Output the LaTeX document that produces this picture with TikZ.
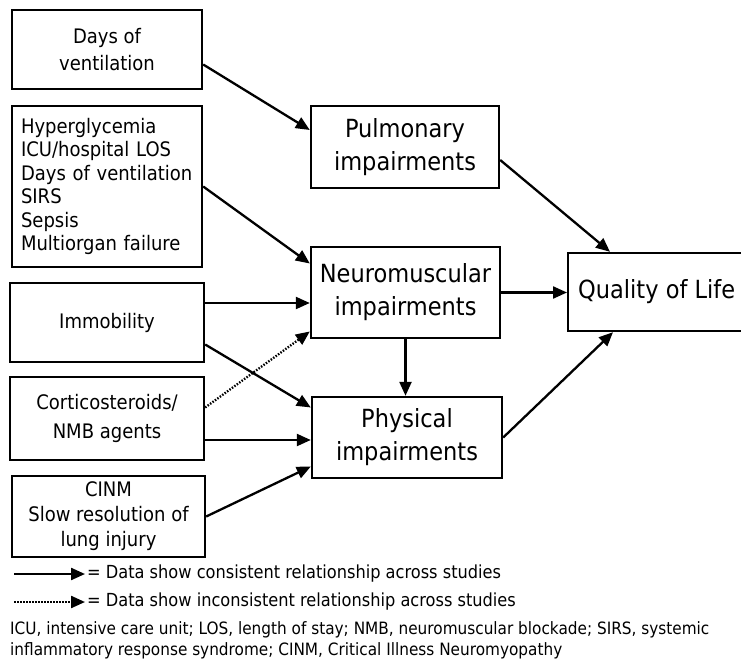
\documentclass[tikz,border=0pt]{standalone}
\usepackage{fontspec}
\setmainfont{DejaVu Sans}[FakeStretch=0.9]
\usetikzlibrary{arrows.meta,calc}

\tikzset{
  box/.style={draw, line width=2.4pt, rectangle, inner sep=4pt, align=center,
              font=\fontsize{20}{27}\selectfont},
  bigbox/.style={box, font=\fontsize{25}{33}\selectfont},
  link/.style={line width=2.3pt, -{Triangle[length=14pt,width=12pt]}},
  weak/.style={link, dash pattern=on 1.5pt off 1.5pt},
  legendtext/.style={anchor=west, inner sep=2pt, font=\fontsize{18}{22}\selectfont},
  notetext/.style={anchor=base west, inner sep=0pt, align=left,
                   font=\fontsize{17}{20.5}\selectfont},
}

\begin{document}
\begin{tikzpicture}[x=1pt, y=-1pt]
  \useasboundingbox (0,0) rectangle (741,660);
  \clip (0,0) rectangle (741,660);
  \fill[white] (0,0) rectangle (741,660);

  % risk factors
  \node[box, minimum width=190pt, minimum height=79pt] (vent) at (107,49.5)
       {Days of\\ventilation};
  \node[box, minimum width=190pt, minimum height=161pt, text width=172pt,
        inner xsep=9pt, align=left, font=\fontsize{20}{23.4}\selectfont] (risk) at (107,186.5)
       {Hyperglycemia\\ICU/hospital LOS\\Days of ventilation\\SIRS\\Sepsis\\Multiorgan failure};
  \node[box, minimum width=194pt, minimum height=79pt] (imm) at (107,322.5)
       {Immobility};
  \node[box, minimum width=194pt, minimum height=83pt, font=\fontsize{20}{29}\selectfont] (cort) at (107,418.5)
       {Corticosteroids/\\NMB agents};
  \node[box, minimum width=193pt, minimum height=81pt, font=\fontsize{20}{25}\selectfont] (cinm) at (108.5,516.5)
       {CINM\\Slow resolution of\\lung injury};

  % impairments
  \node[bigbox, minimum width=188pt, minimum height=82pt] (pulm) at (405,147)
       {Pulmonary\\impairments};
  \node[bigbox, minimum width=189pt, minimum height=91pt, inner xsep=2pt] (neuro) at (405.5,292.5)
       {Neuromuscular\\impairments};
  \node[bigbox, minimum width=190pt, minimum height=81pt] (phys) at (407,437.5)
       {Physical\\impairments};

  % outcome
  \node[bigbox, anchor=west, inner xsep=10pt, minimum height=78pt] (qol) at (567,292)
       {Quality of Life};

  % relationships
  \draw[link] ([yshift=-15pt]vent.east) -- ([yshift=17pt]pulm.west);
  \draw[link] (risk.east) -- ([yshift=29pt]neuro.west);
  \path ([yshift=19.5pt]imm.east) coordinate (i1);
  \draw[link] (i1) -- (i1 -| neuro.west);
  \draw[link] ([yshift=-22pt]imm.east) -- ([yshift=30pt]phys.west);
  \draw[weak] ([yshift=11pt]cort.east) -- ([yshift=-39pt]neuro.west);
  \path ([yshift=-21.5pt]cort.east) coordinate (c2);
  \draw[link] (c2) -- (c2 -| phys.west);
  \draw[link] (cinm.east) -- ([yshift=-29pt]phys.west);
  \draw[link] (neuro.east) -- (neuro.east -| qol.west);
  \draw[link] (neuro.south) -- (neuro.south |- phys.north);
  \draw[link] ([yshift=-13pt]pulm.east) -- ([xshift=43pt]qol.north west);
  \draw[link] (phys.east) -- ([xshift=46pt]qol.south west);

  % legend
  \coordinate (s0) at (14,574);
  \coordinate (s1) at (85,574);
  \draw[link] (s0) -- (s1);
  \node[legendtext] (st) at (s1) {= Data show consistent relationship across studies};
  \coordinate (d0) at (14,602);
  \coordinate (d1) at (85,602);
  \draw[weak] (d0) -- (d1);
  \node[legendtext] (dt) at (d1) {= Data show inconsistent relationship across studies};

  % abbreviations (anchored on the baseline of the last line)
  \node[notetext] (notes) at (10,655)
       {ICU, intensive care unit; LOS, length of stay; NMB, neuromuscular blockade; SIRS, systemic\\
        inflammatory response syndrome; CINM, Critical Illness Neuromyopathy};
\end{tikzpicture}
\end{document}
